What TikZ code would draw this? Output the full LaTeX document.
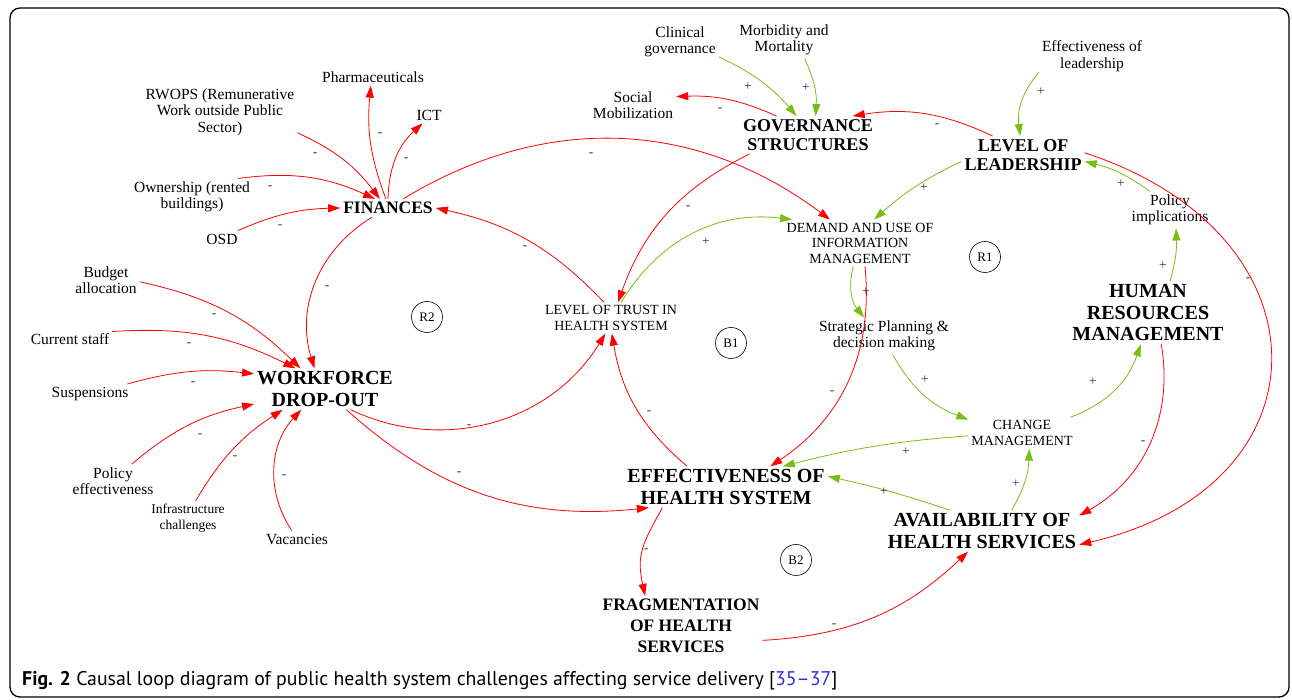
\documentclass[tikz,border=0pt]{standalone}
\usepackage{fontspec}
\setmainfont{Liberation Serif}
\setsansfont{PT Sans}
\usetikzlibrary{arrows.meta}
\definecolor{linkred}{RGB}{255,0,0}
\definecolor{linkgreen}{RGB}{120,190,20}
\definecolor{citeblue}{RGB}{45,45,225}

\begin{document}
\begin{tikzpicture}[x=1pt,y=1pt,
    aux/.style={align=center, inner sep=3pt, font=\fontsize{15.5}{16.5}\selectfont},
    caps/.style={align=center, inner sep=3pt, font=\fontsize{14}{15.5}\selectfont},
    key/.style={align=center, inner sep=3pt, font=\bfseries\fontsize{20}{21.5}\selectfont},
    keys/.style={align=center, inner sep=3pt, font=\bfseries\fontsize{18}{19.5}\selectfont},
    keyf/.style={align=center, inner sep=3pt, font=\bfseries\fontsize{17.5}{21}\selectfont},
    loopmark/.style={draw, circle, line width=0.6pt, minimum size=31pt, inner sep=0pt, font=\fontsize{13}{13}\selectfont},
    sign/.style={inner sep=0pt, text=black!80, font=\fontsize{13.5}{13.5}\selectfont},
    neglink/.style={draw=linkred, line width=0.8pt, -{Triangle[length=12pt,width=8pt]}},
    poslink/.style={draw=linkgreen, line width=0.8pt, -{Triangle[length=12pt,width=8pt]}}]
    \useasboundingbox (0,0) rectangle (1292,700);
    \draw[line width=1.3pt, rounded corners=10pt] (10,3) rectangle (1289,692);

    % variables
    \node[aux] (pharm) at (373,623) {Pharmaceuticals};
    \node[aux] (rwops) at (220,588) {RWOPS (Remunerative\\Work outside Public\\Sector)};
    \node[aux] (ict) at (429,585) {ICT};
    \node[aux] (own) at (192,503) {Ownership (rented\\buildings)};
    \node[aux] (osd) at (222,461) {OSD};
    \node[keyf] (fin) at (388,492) {FINANCES};
    \node[aux] (budget) at (106,420) {Budget\\allocation};
    \node[aux] (staff) at (70,361) {Current staff};
    \node[aux] (susp) at (90,306) {Suspensions};
    \node[key] (wf) at (325,311) {WORKFORCE\\DROP-OUT};
    \node[aux] (poleff) at (113,219) {Policy\\effectiveness};
    \node[aux, font=\fontsize{13.5}{15.5}\selectfont] (infra) at (188,182) {Infrastructure\\challenges};
    \node[aux] (vac) at (297,161) {Vacancies};
    \node[aux] (social) at (633,595) {Social\\Mobilization};
    \node[aux] (clin) at (680,658) {Clinical\\governance};
    \node[aux] (morb) at (784,660) {Morbidity and\\Mortality};
    \node[keys] (gov) at (808,565) {GOVERNANCE\\STRUCTURES};
    \node[aux] (effl) at (1092,644) {Effectiveness of\\leadership};
    \node[keys] (lead) at (1023,545) {LEVEL OF\\LEADERSHIP};
    \node[aux] (policy) at (1170,490) {Policy\\implications};
    \node[caps] (demand) at (860,457) {DEMAND AND USE OF\\INFORMATION\\MANAGEMENT};
    \node[caps] (trust) at (611,382) {LEVEL OF TRUST IN\\HEALTH SYSTEM};
    \node[aux] (strat) at (884,364) {Strategic Planning \&\\decision making};
    \node[key] (hrm) at (1148,387) {HUMAN\\RESOURCES\\MANAGEMENT};
    \node[caps] (change) at (1022,267) {CHANGE\\MANAGEMENT};
    \node[key] (eff) at (726,213) {EFFECTIVENESS OF\\HEALTH SYSTEM};
    \node[key] (avail) at (982,169) {AVAILABILITY OF\\HEALTH SERVICES};
    \node[keyf] (frag) at (681,74) {FRAGMENTATION\\OF HEALTH\\SERVICES};

    % loops
    \node[loopmark] (r1) at (985,443) {R1};
    \node[loopmark] (r2) at (427,383) {R2};
    \node[loopmark] (b1) at (731,357) {B1};
    \node[loopmark] (b2) at (796,140) {B2};

    % finances
    \draw[neglink] (rwops.-15) to[bend left=14] (fin.132);
    \draw[neglink] (own.22) to[bend left=16] (fin.145);
    \draw[neglink] (osd.28) to[bend left=11] (fin.180);
    \draw[neglink] (fin.103) to[bend left=13] (pharm.256);
    \draw[neglink] (fin.90) to[bend left=23] (ict.232);
    \draw[neglink] (fin.31) to[bend left=34] (demand.142);
    \draw[neglink] (trust.114) to[bend right=17] (fin.0);
    \draw[neglink] (fin.210) to[bend right=38] (wf.117);
    \node[sign] (s1) at (315,545) {-};
    \node[sign] (s2) at (270,512) {-};
    \node[sign] (s3) at (280,473) {-};
    \node[sign] (s4) at (380,565) {-};
    \node[sign] (s5) at (406,540) {-};
    \node[sign] (s6) at (591,545) {-};
    \node[sign] (s7) at (525,452) {-};
    \node[sign] (s8) at (327,412) {-};

    % workforce
    \draw[neglink] (budget.-3) to[bend left=16] (wf.140);
    \draw[neglink] (staff.10) to[bend left=15] (wf.145);
    \draw[neglink] (susp.15) to[bend left=11] (wf.168);
    \draw[neglink] (poleff.42) to[bend left=14] (wf.192);
    \draw[neglink] (infra.66) to[bend left=13] (wf.206);
    \draw[neglink] (vac.122) to[bend left=38] (wf.221);
    \draw[neglink] (wf.-39) to[bend right=42] (trust.250);
    \draw[neglink] (wf.-44) to[bend right=24] (eff.195);
    \node[sign] (s9) at (214,384) {-};
    \node[sign] (s10) at (189,355) {-};
    \node[sign] (s11) at (193,316) {-};
    \node[sign] (s12) at (200,264) {-};
    \node[sign] (s13) at (235,242) {-};
    \node[sign] (s14) at (284,223) {-};
    \node[sign] (s15) at (469,273) {-};
    \node[sign] (s16) at (459,226) {-};

    % governance and leadership
    \draw[poslink] (clin.-21) to[bend left=12] (gov.121);
    \draw[poslink] (morb.-42) to[bend left=14] (gov.68);
    \draw[neglink] (gov.149) to[bend right=13] (social.11);
    \draw[neglink] (gov.198) to[bend right=22] (trust.66);
    \draw[poslink] (effl.197) to[bend right=24] (lead.98);
    \draw[neglink] (lead.148) to[bend right=17] (gov.23);
    \draw[poslink] (lead.186) to[bend right=8] (demand.59);
    \draw[poslink] (policy.137) to[bend right=11] (lead.-6);
    \draw[neglink] (lead.2) to[out=-18, in=13, looseness=1.7] (avail.-8);
    \node[sign] (s17) at (748,613) {+};
    \node[sign] (s18) at (806,612) {+};
    \node[sign] (s19) at (720,590) {-};
    \node[sign] (s20) at (688,492) {-};
    \node[sign] (s21) at (1041,608) {+};
    \node[sign] (s22) at (937,574) {-};
    \node[sign] (s23) at (924,512) {+};
    \node[sign] (s24) at (1121,516) {+};
    \node[sign] (s25) at (1248,420) {-};

    % centre
    \draw[poslink] (trust.57) to[bend left=33] (demand.161);
    \draw[neglink] (eff.152) to[bend left=20] (trust.-87);
    \draw[poslink] (demand.254) to[bend right=27] (strat.137);
    \draw[neglink] (demand.-78) to[bend left=31] (eff.25);
    \draw[poslink] (strat.-65) to[bend right=20] (change.166);
    \draw[poslink] (change.183) to[bend right=5] (eff.20);
    \draw[poslink] (avail.147) to[bend right=3] (eff.6);
    \draw[poslink] (avail.35) to[bend right=14] (change.-65);
    \draw[poslink] (change.18) to[bend right=25] (hrm.257);
    \draw[poslink] (hrm.55) to[bend right=9] (policy.-72);
    \draw[neglink] (hrm.-67) to[bend left=35] (avail.9);
    \draw[neglink] (eff.198) to[out=241, in=102, looseness=1.2] (frag.140);
    \draw[neglink] (frag.-10) to[bend right=20] (avail.236);
    \node[sign] (s26) at (706,458) {+};
    \node[sign] (s27) at (649,287) {-};
    \node[sign] (s28) at (866,408) {+};
    \node[sign] (s29) at (832,307) {-};
    \node[sign] (s30) at (925,320) {+};
    \node[sign] (s31) at (906,248) {+};
    \node[sign] (s32) at (884,208) {+};
    \node[sign] (s33) at (1016,216) {+};
    \node[sign] (s34) at (1093,318) {+};
    \node[sign] (s35) at (1163,434) {+};
    \node[sign] (s36) at (1143,257) {-};
    \node[sign] (s37) at (646,149) {-};
    \node[sign] (s38) at (834,74) {-};

    \node[anchor=west, inner sep=0pt, font=\sffamily\fontsize{19.8}{19.8}\selectfont] (cap) at (22,19)
        {\textbf{Fig. 2} Causal loop diagram of public health system challenges affecting service delivery [\textcolor{citeblue}{35–37}]};
\end{tikzpicture}
\end{document}
